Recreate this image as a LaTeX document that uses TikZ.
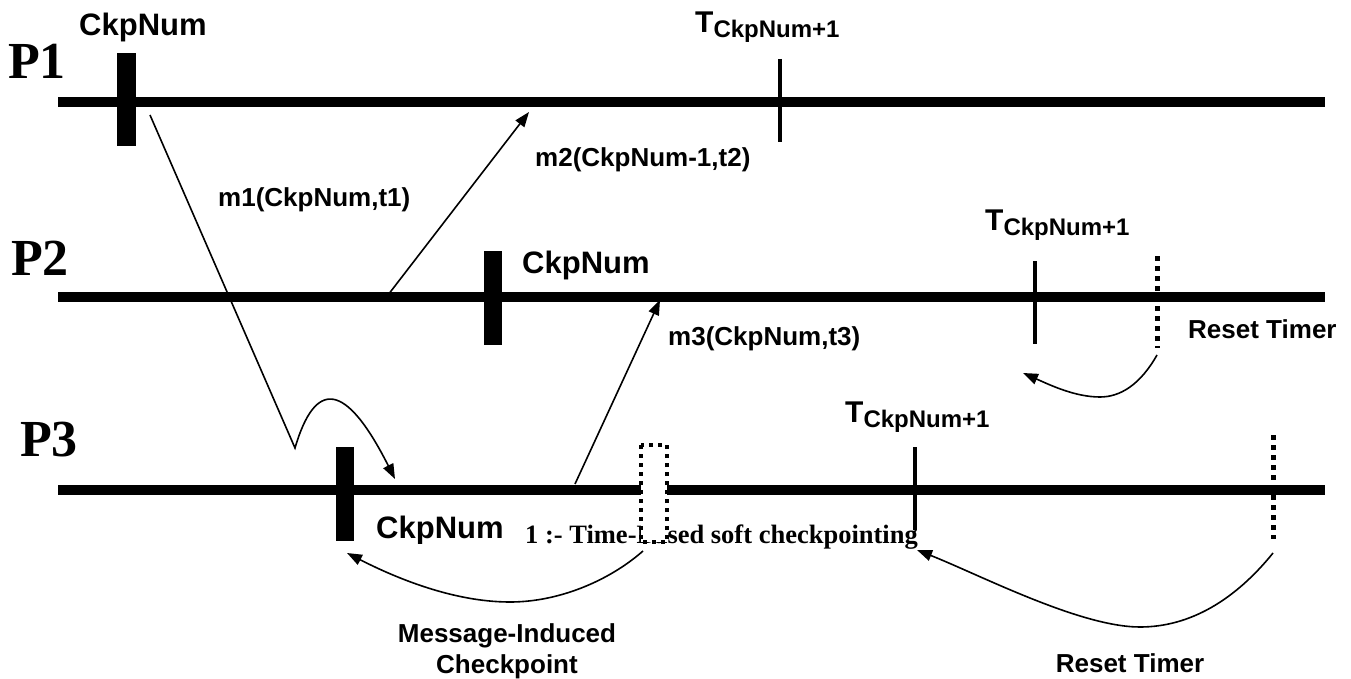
\documentclass[tikz,border=0pt]{standalone}
\usepackage{fontspec}
\setmainfont{Liberation Serif}
\newfontfamily\sansf{Liberation Sans}
\usetikzlibrary{arrows.meta}
\begin{document}
\begin{tikzpicture}[x=1pt,y=-1pt,
  proc/.style={line width=10pt},
  ckbar/.style={fill=black,draw=none},
  tick/.style={line width=4pt},
  dotline/.style={line width=5pt,dash pattern=on 5pt off 5pt},
  msg/.style={line width=1.6pt,-{Triangle[length=15pt,width=11pt]}},
  lbl/.style={inner sep=0pt,anchor=base west,font=\sansf\bfseries\fontsize{26}{31}\selectfont},
  ckl/.style={inner sep=0pt,anchor=base west,font=\sansf\bfseries\fontsize{31}{37}\selectfont},
  plbl/.style={inner sep=0pt,font=\bfseries\fontsize{52}{60}\selectfont},
  tl/.style={inner sep=0pt,anchor=base west}]
\useasboundingbox (0,0) rectangle (1351,679);
\fill[white] (0,0) rectangle (1351,679);
\newcommand{\tlabel}{{\sansf\bfseries\fontsize{30}{36}\selectfont T}{\sansf\bfseries\fontsize{24}{28}\selectfont\raisebox{-5pt}{CkpNum+1}}}
% process lines
\coordinate (p1a) at (58,102); \coordinate (p1b) at (1325,102);
\coordinate (p2a) at (58,297); \coordinate (p2b) at (1325,297);
\coordinate (p3a) at (58,490); \coordinate (p3b) at (1325,490);
\draw[proc] (p1a) -- (p1b);
\draw[proc] (p2a) -- (p2b);
\draw[proc] (p3a) -- (p3b);
% process labels
\node[plbl] (P1) at (37,61) {P1};
\node[plbl] (P2) at (40,258) {P2};
\node[plbl] (P3) at (49,440) {P3};
% checkpoint bars
\fill[ckbar] (117,53) rectangle (136,146);
\fill[ckbar] (484,251) rectangle (502,345);
\fill[ckbar] (336,447) rectangle (354,541);
\node[ckl] (c1) at (79,36) {CkpNum};
\node[ckl] (c2) at (522,273) {CkpNum};
% timer ticks
\coordinate (t1a) at (780,59); \coordinate (t1b) at (780,142);
\coordinate (t2a) at (1035,261); \coordinate (t2b) at (1035,344);
\coordinate (t3a) at (915,447); \coordinate (t3b) at (915,530);
\draw[tick] (t1a) -- (t1b);
\draw[tick] (t2a) -- (t2b);
\draw[tick] (t3a) -- (t3b);
\node[tl] (T1) at (695,33) {\tlabel};
\node[tl] (T2) at (985,230) {\tlabel};
\node[tl] (T3) at (845,422) {\tlabel};
% reset dotted lines
\coordinate (d2a) at (1157,256); \coordinate (d2b) at (1157,348);
\coordinate (d3a) at (1273,435); \coordinate (d3b) at (1273,539);
\draw[dotline] (d2a) -- (d2b);
\draw[dotline] (d3a) -- (d3b);
% P3 texts
\begin{scope}
\clip (0,0) rectangle (1351,543);
\node[ckl] (c3) at (376,538) {CkpNum};
\end{scope}
\node[inner sep=0pt,anchor=base west,font=\bfseries\fontsize{26.5}{31}\selectfont] (cap) at (525,543) {1 :- Time-Based soft checkpointing};
% message-induced dotted box
\draw[fill=white,line width=3.5pt,dash pattern=on 4pt off 5pt] (641,445) rectangle (667,542);
% messages
\coordinate (m1s) at (150,115);
\coordinate (m1v) at (295,448);
\coordinate (m1e) at (395,479);
\draw[msg] (m1s) -- (m1v) .. controls (315,380) and (345,380) .. (m1e);
\coordinate (m2s) at (388,295);
\coordinate (m2e) at (529,112);
\draw[msg] (m2s) -- (m2e);
\coordinate (m3s) at (575,484);
\coordinate (m3e) at (660,300);
\draw[msg] (m3s) -- (m3e);
\node[lbl] (m1) at (218,206) {m1(CkpNum,t1)};
\node[lbl] (m2) at (535,167) {m2(CkpNum-1,t2)};
\node[lbl] (m3) at (668,345) {m3(CkpNum,t3)};
% reset / induced arrows
\coordinate (r2s) at (1157,355); \coordinate (r2m) at (1100,397); \coordinate (r2e) at (1023,373);
\draw[msg] (r2s) .. controls (1140,385) and (1120,397) .. (r2m) .. controls (1075,397) and (1050,385) .. (r2e);
\coordinate (mis) at (643,551); \coordinate (mim) at (510,602); \coordinate (mie) at (347,553);
\draw[msg] (mis) .. controls (610,580) and (560,602) .. (mim) .. controls (450,602) and (390,575) .. (mie);
\coordinate (r3s) at (1273,553); \coordinate (r3m) at (1140,627); \coordinate (r3e) at (917,550);
\draw[msg] (r3s) .. controls (1235,600) and (1190,627) .. (r3m) .. controls (1080,627) and (980,575) .. (r3e);
\node[lbl] (rt2) at (1188,338) {Reset Timer};
\node[lbl,anchor=base] (rt3) at (1130,672) {Reset Timer};
\node[inner sep=0pt,align=center,anchor=base,font=\sansf\bfseries\fontsize{26}{31}\selectfont] (mi) at (507,673) {Message-Induced\\Checkpoint};
\end{tikzpicture}
\end{document}
